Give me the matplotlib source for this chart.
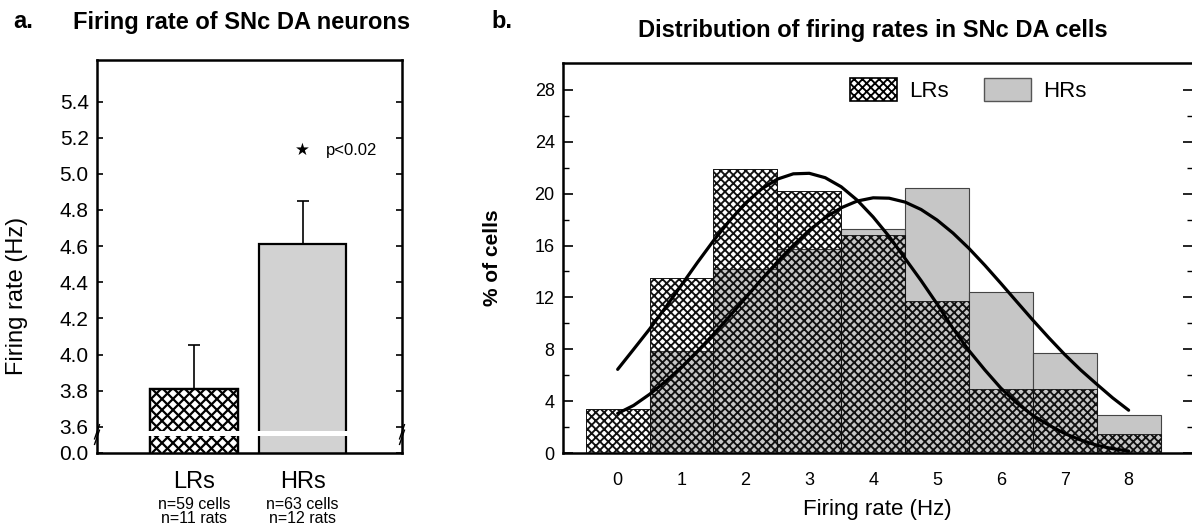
import matplotlib
matplotlib.use("Agg")
import matplotlib.pyplot as plt
import numpy as np
from matplotlib.collections import LineCollection
from matplotlib.transforms import IdentityTransform, Bbox
from matplotlib.patches import Patch

# ---------------- data ----------------
groups = ["LRs", "HRs"]
mean_rate = [3.81, 4.61]
sem_rate = [0.24, 0.24]
n_cells = [59, 63]
n_rats = [11, 12]
p_text = "p<0.02"
star_level = 5.13

rate_ticks = [3.6, 3.8, 4.0, 4.2, 4.4, 4.6, 4.8, 5.0, 5.2, 5.4]

bins = [0, 1, 2, 3, 4, 5, 6, 7, 8]
lr_pct = [3.4, 13.5, 21.9, 20.2, 16.8, 11.7, 4.9, 4.9, 1.5]
hr_pct = [0.0, 7.9, 14.2, 15.7, 17.3, 20.4, 12.4, 7.7, 2.9]

fit_x = [0, 0.25, 0.5, 0.75, 1, 1.25, 1.5, 1.75, 2, 2.25, 2.5, 2.75, 3, 3.25,
         3.5, 3.75, 4, 4.25, 4.5, 4.75, 5, 5.25, 5.5, 5.75, 6, 6.25, 6.5,
         6.75, 7, 7.25, 7.5, 7.75, 8]
lr_fit = [6.45, 8.0, 9.56, 11.23, 12.96, 14.7, 16.37, 17.9, 19.26, 20.35,
          21.12, 21.53, 21.57, 21.23, 20.53, 19.5, 18.2, 16.7, 15.0, 13.3,
          11.5, 9.6, 7.9, 6.4, 5.0, 3.85, 2.9, 2.15, 1.5, 1.0, 0.6, 0.33, 0.15]
hr_fit = [3.05, 3.67, 4.53, 5.52, 6.63, 7.85, 9.16, 10.53, 11.95, 13.37,
          14.74, 16.02, 17.18, 18.15, 18.91, 19.43, 19.68, 19.65, 19.35,
          18.78, 17.97, 16.96, 15.78, 14.47, 13.08, 11.66, 10.25, 8.89, 7.59,
          6.40, 5.31, 4.25, 3.3]

pct_major = [0, 4, 8, 12, 16, 20, 24, 28]
pct_minor = [2, 6, 10, 14, 18, 22, 26]

# ---------------- style ----------------
plt.rcParams["font.family"] = ["Liberation Sans", "DejaVu Sans"]
NARROW = ["Liberation Sans Narrow", "Liberation Sans", "DejaVu Sans"]
plt.rcParams["hatch.linewidth"] = 1.35

W, H = 1192, 528
fig = plt.figure(figsize=(W / 100, H / 100), dpi=100)

def frac(x0, y0, x1, y1):
    return [x0 / W, 1 - y1 / H, (x1 - x0) / W, (y1 - y0) / H]

def manual_crosshatch(ax, patch, period, lw):
    """Cross-hatch a patch with diagonal lines (display-pixel spacing)."""
    r = fig.canvas.get_renderer()
    bb = Bbox.intersection(patch.get_window_extent(r), ax.bbox)
    x0, y0, x1, y1 = bb.x0, bb.y0, bb.x1, bb.y1
    h = y1 - y0
    segs = []
    c = x0 - h - period
    while c < x1 + period:
        segs.append([(c, y0), (c + h, y1)])
        segs.append([(c + h, y0), (c, y1)])
        c += period
    lc = LineCollection(segs, colors="black", linewidths=lw,
                        transform=IdentityTransform(), zorder=1.5)
    ax.add_collection(lc, autolim=False)
    lc.set_clip_box(bb)

# ================= panel a =================
ax1 = fig.add_axes(frac(97, 60, 402, 453))
ax1.set_xlim(-0.894, 1.917)
y_floor = 3.455
ax1.set_ylim(y_floor, 5.63)
xpos = np.arange(len(groups))

b_lr = ax1.bar(xpos[0], mean_rate[0], width=0.81, facecolor="white",
               edgecolor="black", linewidth=1.6, zorder=1)
b_hr = ax1.bar(xpos[1], mean_rate[1], width=0.81, facecolor="#d2d2d2",
               edgecolor="black", linewidth=1.6, zorder=1)
manual_crosshatch(ax1, b_lr.patches[0], 11.0, 1.6)
ax1.bar(xpos[0], mean_rate[0], width=0.81, facecolor="none",
        edgecolor="black", linewidth=1.6, zorder=1.8)

ax1.errorbar(xpos, mean_rate, yerr=[np.zeros(len(xpos)), sem_rate], fmt="none",
             ecolor="black", elinewidth=1.2, capsize=4, capthick=1.2, zorder=3)

# axis break band
ax1.axhspan(3.55, 3.574, color="white", zorder=2, lw=0)
for xa in (0.0, 1.0):
    for dy in (0.0, 0.014):
        ax1.plot([xa - 0.008, xa + 0.008], [0.022 + dy, 0.058 + dy],
                 transform=ax1.transAxes, color="black", lw=1.0,
                 clip_on=False, zorder=5)

ax1.set_yticks([y_floor] + rate_ticks)
ax1.set_yticklabels(["0.0"] + [f"{v:.1f}" for v in rate_ticks], fontsize=15)
ax1.tick_params(axis="y", direction="in", length=4, width=1.2, right=True,
                pad=6)
ax1.set_xticks(xpos)
ax1.set_xticklabels(groups, fontsize=17)
ax1.tick_params(axis="x", length=0, pad=13)
for s in ax1.spines.values():
    s.set_linewidth(1.8)

for i in range(len(groups)):
    ax1.text(xpos[i], -0.112, f"n={n_cells[i]} cells\nn={n_rats[i]} rats",
             transform=ax1.get_xaxis_transform(), ha="center", va="top",
             fontsize=11.5, linespacing=0.95)

ax1.text(xpos[1], star_level, "\u2605", ha="center", va="center", fontsize=12,
         family=["DejaVu Sans"])
ax1.text(xpos[1] + 0.22, star_level, p_text, ha="left", va="center", fontsize=12)

ax1.set_ylabel("Firing rate (Hz)", fontsize=17)
ax1.yaxis.set_label_coords(-0.225, 0.40)

fig.text(13 / W, 1 - 22 / H, "a.", fontsize=17, fontweight="bold", va="center")
fig.text(73 / W, 1 - 22 / H, "Firing rate of SNc DA neurons", fontsize=17,
         fontweight="bold", va="center")

# ================= panel b =================
ax2 = fig.add_axes(frac(563, 62.7, 1192.5, 453))
ax2.set_xlim(-0.856, 9.0)
ax2.set_ylim(0, 30.1)

ax2.bar(bins, lr_pct, width=1.0, facecolor="white", edgecolor="#333333",
        linewidth=0.6, zorder=1)
ax2.bar(bins, hr_pct, width=1.0, facecolor="#c6c6c6", edgecolor="#444444",
        linewidth=0.8, zorder=2)
ax2.bar(bins, lr_pct, width=1.0, facecolor="none", edgecolor="#111111",
        linewidth=0.6, hatch="xxxx", zorder=3)

ax2.plot(fit_x, lr_fit, color="black", lw=2.3, zorder=4,
         solid_capstyle="round")
ax2.plot(fit_x, hr_fit, color="black", lw=2.3, zorder=4,
         solid_capstyle="round")

# legend
h_lr = Patch(facecolor="white", edgecolor="black", hatch="xxxx", lw=1.2)
h_hr = Patch(facecolor="#c6c6c6", edgecolor="#555555", lw=1.0)
leg = ax2.legend([h_lr, h_hr], ["LRs", "HRs"], ncol=2, frameon=False,
                 loc="center left", bbox_to_anchor=(0.424, 0.93),
                 handlelength=2.1, handleheight=1.25, handletextpad=0.55,
                 columnspacing=1.6, prop={"family": NARROW, "size": 16})

ax2.set_yticks(pct_major)
ax2.set_yticks(pct_minor, minor=True)
ax2.set_yticklabels([str(v) for v in pct_major], family=NARROW, fontsize=13)
ax2.tick_params(axis="y", which="major", direction="in", length=7, width=1.2,
                right=True, pad=6)
ax2.tick_params(axis="y", which="minor", direction="in", length=4, width=1.0,
                right=True)
ax2.set_xticks(bins)
ax2.set_xticklabels([str(v) for v in bins], family=NARROW, fontsize=13)
ax2.tick_params(axis="x", length=0, pad=14)
for s in ax2.spines.values():
    s.set_linewidth(1.8)

ax2.set_xlabel("Firing rate (Hz)", family=NARROW, fontsize=16, labelpad=7)
ax2.set_ylabel("% of cells", fontsize=15, fontweight="bold")
ax2.yaxis.set_label_coords(-0.097, 0.5)

fig.text(491 / W, 1 - 22 / H, "b.", fontsize=17, fontweight="bold", va="center")
fig.text(873 / W, 1 - 30 / H, "Distribution of firing rates in SNc DA cells",
         fontsize=17, fontweight="bold", va="center", ha="center")

fig.savefig("out.png", dpi=100)
